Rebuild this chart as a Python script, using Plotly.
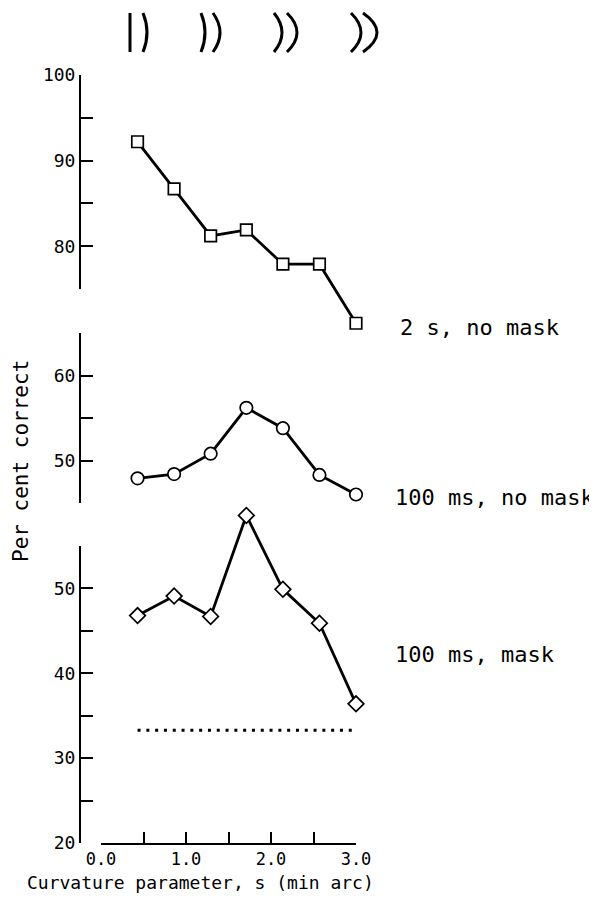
import plotly.graph_objects as go

# ---- data ----
s_values = [0.43, 0.86, 1.29, 1.71, 2.14, 2.57, 3.0]
two_s_no_mask = [92.2, 86.7, 81.2, 81.9, 77.9, 77.9, 71.0]
ms100_no_mask = [47.9, 48.4, 50.8, 56.2, 53.8, 48.3, 46.0]
ms100_mask = [46.8, 49.1, 46.7, 58.6, 49.9, 45.9, 36.4]
chance_x = [0.43, 3.0]
chance_level = [33.3, 33.3]

series_labels = ["2 s, no mask", "100 ms, no mask", "100 ms, mask"]
x_tick_vals = [0, 1, 2, 3]
x_tick_text = ["0.0", "1.0", "2.0", "3.0"]
y1_ticks = [80, 90, 100]
y2_ticks = [50, 60]
y3_ticks = [20, 30, 40, 50]
x_range = [0, 3]
y1_range = [75, 100]
y2_range = [45, 65]
y3_range = [20, 55]

# the page body has an 8px margin; size the figure so it fills the window
OFF = 8
W, H = 597 - OFF, 911 - OFF
MONO = "DejaVu Sans Mono"


def fx(px):
    return (px - OFF) / W


def fy(py):
    return 1 - (py - OFF) / H


# pixel placement (window pixels) of the visible axes
X_DOM = [fx(101), fx(356)]
Y1_DOM = [fy(289), fy(75)]
Y2_DOM = [fy(503), fy(333)]
Y3_DOM = [fy(843), fy(546)]


def full_range(dom, rng):
    """Range for an invisible axis spanning the whole figure with the same scale."""
    k = (rng[1] - rng[0]) / (dom[1] - dom[0])
    return [rng[0] - dom[0] * k, rng[0] + (1 - dom[0]) * k]


fig = go.Figure()

# empty traces so the three visible axis segments are drawn
for ya in ["y", "y2", "y3"]:
    fig.add_trace(go.Scatter(x=[], y=[], xaxis="x", yaxis=ya, mode="lines",
                             showlegend=False, hoverinfo="skip"))

line_style = dict(color="black", width=2.8)
mk_line = dict(color="black", width=1.7)
fig.add_trace(go.Scatter(
    x=s_values, y=two_s_no_mask, xaxis="x2", yaxis="y4", mode="lines+markers",
    line=line_style, showlegend=False, name=series_labels[0],
    marker=dict(symbol="square", size=11.5, color="white", line=mk_line)))
fig.add_trace(go.Scatter(
    x=s_values, y=ms100_no_mask, xaxis="x2", yaxis="y5", mode="lines+markers",
    line=line_style, showlegend=False, name=series_labels[1],
    marker=dict(symbol="circle", size=12.5, color="white", line=mk_line)))
fig.add_trace(go.Scatter(
    x=s_values, y=ms100_mask, xaxis="x2", yaxis="y6", mode="lines+markers",
    line=line_style, showlegend=False, name=series_labels[2],
    marker=dict(symbol="diamond", size=12, color="white", line=mk_line)))
fig.add_trace(go.Scatter(
    x=chance_x, y=chance_level, xaxis="x2", yaxis="y6", mode="lines",
    line=dict(color="black", width=3, dash="3px,5.8px"), showlegend=False))

common_y = dict(
    anchor="free", position=fx(80), showline=True, linecolor="black", linewidth=2,
    ticks="inside", ticklen=12, tickwidth=1.6, tickcolor="black", automargin=False,
    showgrid=False, zeroline=False, tickmode="array",
    tickfont=dict(family=MONO, size=18, color="black"),
    minor=dict(tickmode="linear", tick0=0, dtick=5, ticks="inside", ticklen=12,
               tickwidth=1.6, tickcolor="black", showgrid=False),
)
hidden = dict(visible=False, showgrid=False, zeroline=False, automargin=False,
              domain=[0, 1], anchor="free", position=0)

fig.update_layout(
    template="none",
    width=W, height=H, autosize=False,
    margin=dict(l=0, r=0, t=0, b=0, pad=0),
    paper_bgcolor="white", plot_bgcolor="rgba(0,0,0,0)",
    xaxis=dict(
        domain=X_DOM, range=x_range, anchor="y3", automargin=False,
        showline=True, linecolor="black", linewidth=2,
        ticks="inside", ticklen=11, tickwidth=1.6, tickcolor="black",
        tickmode="array", tickvals=x_tick_vals, ticktext=x_tick_text,
        tickfont=dict(family=MONO, size=17, color="black"),
        showgrid=False, zeroline=False,
        minor=dict(tickmode="linear", tick0=0, dtick=0.5, ticks="inside", ticklen=11,
                   tickwidth=1.6, tickcolor="black", showgrid=False),
    ),
    yaxis=dict(domain=Y1_DOM, range=y1_range, tickvals=y1_ticks, **common_y),
    yaxis2=dict(domain=Y2_DOM, range=y2_range, tickvals=y2_ticks, **common_y),
    yaxis3=dict(domain=Y3_DOM, range=y3_range, tickvals=y3_ticks, **common_y),
    xaxis2=dict(range=full_range(X_DOM, x_range), **hidden),
    yaxis4=dict(range=full_range(Y1_DOM, y1_range), **hidden),
    yaxis5=dict(range=full_range(Y2_DOM, y2_range), **hidden),
    yaxis6=dict(range=full_range(Y3_DOM, y3_range), **hidden),
)

# axis titles
fig.add_annotation(text="Curvature parameter, s (min arc)", xref="paper", yref="paper",
                   x=fx(200), y=fy(882), showarrow=False, xanchor="center", yanchor="middle",
                   font=dict(family=MONO, size=18, color="black"))
fig.add_annotation(text="Per cent correct", xref="paper", yref="paper", textangle=-90,
                   x=fx(21), y=fy(461), showarrow=False, xanchor="center", yanchor="middle",
                   font=dict(family=MONO, size=21, color="black"))

# series labels
label_pos = [(398, 327), (393, 498), (393, 654)]
for txt, (lx, ly) in zip(series_labels, label_pos):
    fig.add_annotation(text=txt, xref="paper", yref="paper", x=fx(lx), y=fy(ly),
                       showarrow=False, xanchor="left", yanchor="middle",
                       font=dict(family=MONO, size=22, color="black"))

# stimulus icons (pairs of arcs) above the plot
icon_strokes = [(130, 0), (143, 4), (201, 4), (213, 7), (274, 8), (287, 10), (351, 10), (363, 14)]
top_px, bot_px = 13, 52
for x0, b in icon_strokes:
    mid = (top_px + bot_px) / 2
    path = (f"M {fx(x0)},{fy(top_px)} Q {fx(x0 + 2 * b)},{fy(mid)} {fx(x0)},{fy(bot_px)}")
    fig.add_shape(type="path", path=path, xref="paper", yref="paper",
                  line=dict(color="black", width=3))

fig.write_html("out.html")
